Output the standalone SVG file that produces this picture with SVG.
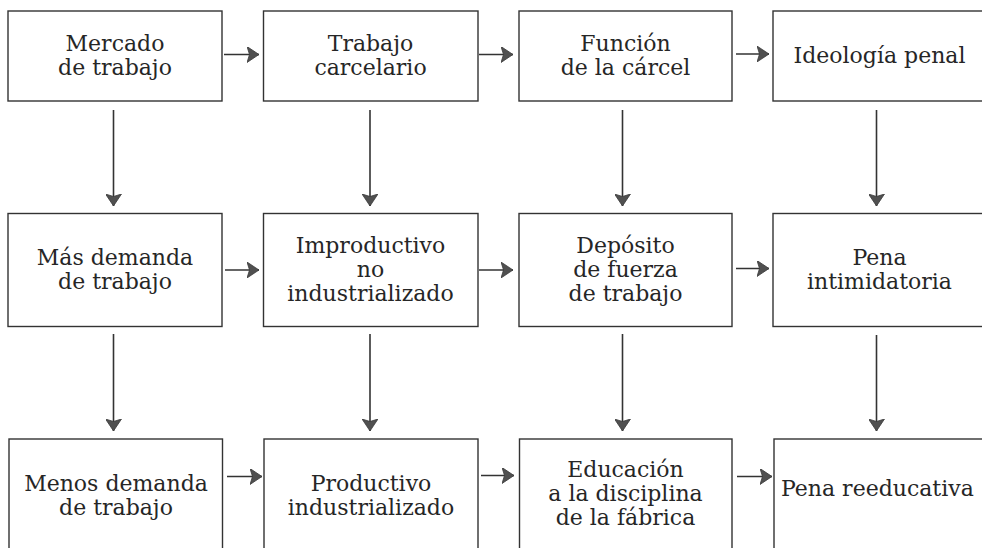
<svg xmlns="http://www.w3.org/2000/svg" width="982" height="548" viewBox="0 0 982 548">
<defs>
<style>
.box{fill:#fff;stroke:#333;stroke-width:1.4}
.t{font-family:"DejaVu Serif","Liberation Serif",serif;font-size:22px;fill:#262626;text-anchor:middle}
.tl{text-anchor:start}
.c{stroke:#333;stroke-width:1.6;fill:none}
</style>
<marker id="ah" viewBox="0 0 13 16" refX="12" refY="8" markerWidth="13" markerHeight="16" markerUnits="userSpaceOnUse" orient="auto">
<path d="M0,0 L12,8 L0,16 L2.5,8 Z" fill="#505050" stroke="#3a3a3a" stroke-width="0.8"/>
</marker>
</defs>
<rect width="982" height="548" fill="#fff"/>
<g id="n-mercado"><rect class="box" x="8" y="11" width="214" height="90"/><text class="t" x="115" y="51">Mercado</text><text class="t" x="115" y="75">de trabajo</text></g>
<g id="n-trabajo-carcelario"><rect class="box" x="263.5" y="11" width="214.5" height="90"/><text class="t" x="370.5" y="51">Trabajo</text><text class="t" x="370.5" y="75">carcelario</text></g>
<g id="n-funcion"><rect class="box" x="519" y="11" width="213" height="90"/><text class="t" x="625.5" y="51">Función</text><text class="t" x="625.5" y="75">de la cárcel</text></g>
<g id="n-ideologia"><rect class="box" x="773" y="11" width="215" height="90"/><text class="t" x="879.5" y="63">Ideología penal</text></g>
<g id="n-mas-demanda"><rect class="box" x="8" y="213.5" width="214" height="113"/><text class="t" x="115" y="265">Más demanda</text><text class="t" x="115" y="289">de trabajo</text></g>
<g id="n-improductivo"><rect class="box" x="263.5" y="213.5" width="214.5" height="113"/><text class="t" x="370.5" y="253">Improductivo</text><text class="t" x="370.5" y="277">no</text><text class="t" x="370.5" y="301">industrializado</text></g>
<g id="n-deposito"><rect class="box" x="519" y="213.5" width="213" height="113"/><text class="t" x="625.5" y="253">Depósito</text><text class="t" x="625.5" y="277">de fuerza</text><text class="t" x="625.5" y="301">de trabajo</text></g>
<g id="n-intimidatoria"><rect class="box" x="773" y="213.5" width="215" height="113"/><text class="t" x="879.5" y="265">Pena</text><text class="t" x="879.5" y="289">intimidatoria</text></g>
<g id="n-menos-demanda"><rect class="box" x="9" y="439" width="213.5" height="120"/><text class="t" x="116" y="491">Menos demanda</text><text class="t" x="116" y="515">de trabajo</text></g>
<g id="n-productivo"><rect class="box" x="264" y="439" width="214" height="120"/><text class="t" x="371" y="491">Productivo</text><text class="t" x="371" y="515">industrializado</text></g>
<g id="n-educacion"><rect class="box" x="519.5" y="439" width="212.5" height="120"/><text class="t" x="625.5" y="477">Educación</text><text class="t" x="625.5" y="501">a la disciplina</text><text class="t" x="625.5" y="525">de la fábrica</text></g>
<g id="n-reeducativa"><rect class="box" x="774" y="439" width="215" height="120"/><text class="t tl" x="781" y="496">Pena reeducativa</text></g>
<g id="connectors">
<path class="c" marker-end="url(#ah)" d="M224,54.5 H259"/>
<path class="c" marker-end="url(#ah)" d="M479,54.5 H513"/>
<path class="c" marker-end="url(#ah)" d="M736,54 H769"/>
<path class="c" marker-end="url(#ah)" d="M225,270 H259"/>
<path class="c" marker-end="url(#ah)" d="M479,270 H513"/>
<path class="c" marker-end="url(#ah)" d="M736,268.5 H769"/>
<path class="c" marker-end="url(#ah)" d="M227,476.5 H262"/>
<path class="c" marker-end="url(#ah)" d="M481,475.5 H514"/>
<path class="c" marker-end="url(#ah)" d="M737,476.5 H772"/>
<path class="c" marker-end="url(#ah)" d="M113.5,110 V206"/>
<path class="c" marker-end="url(#ah)" d="M370,110 V206"/>
<path class="c" marker-end="url(#ah)" d="M622.5,110 V206"/>
<path class="c" marker-end="url(#ah)" d="M876.5,110 V206"/>
<path class="c" marker-end="url(#ah)" d="M113.5,334 V431"/>
<path class="c" marker-end="url(#ah)" d="M370,334 V431"/>
<path class="c" marker-end="url(#ah)" d="M622.5,334 V431"/>
<path class="c" marker-end="url(#ah)" d="M876.5,335 V431"/>
</g>
</svg>
